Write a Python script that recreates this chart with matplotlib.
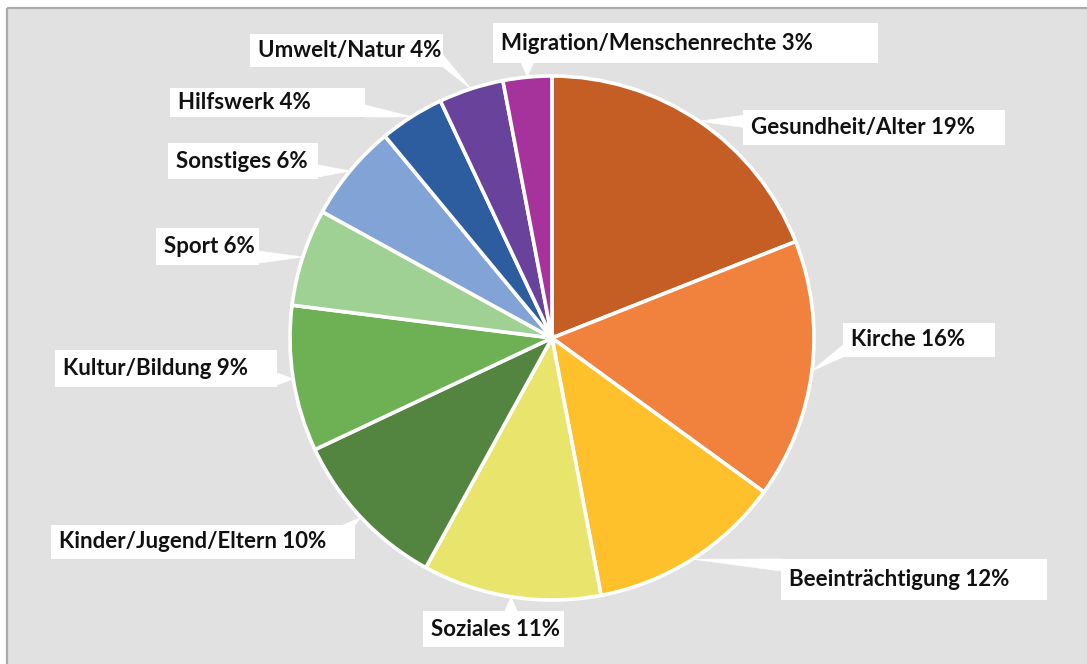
import numpy as np
import matplotlib
matplotlib.use('Agg')
import matplotlib.pyplot as plt
from matplotlib.patches import Rectangle, Polygon

## ------------------------------------------------------------
## 데이터
## ------------------------------------------------------------
categories = ['Gesundheit/Alter', 'Kirche', 'Beeinträchtigung', 'Soziales',
              'Kinder/Jugend/Eltern', 'Kultur/Bildung', 'Sport', 'Sonstiges',
              'Hilfswerk', 'Umwelt/Natur', 'Migration/Menschenrechte']
values = [19, 16, 12, 11, 10, 9, 6, 6, 4, 4, 3]
colors = ['#C55E24', '#F1823D', '#FFC12B', '#E8E46C', '#538540', '#6DB154',
          '#9ED193', '#82A3D5', '#2D5D9E', '#69439B', '#A6329B']

## ------------------------------------------------------------
## 레이아웃 (픽셀, 위쪽 기준)
## ------------------------------------------------------------
W, H = 1087, 664
CX, CY, R = 552, 338, 262
label_boxes = [(743, 110, 1005, 145), (843, 323, 995, 357), (781, 559, 1047, 600),
               (423, 611, 564, 647), (51, 525, 355, 559), (55, 350, 277, 387),
               (156, 228, 259, 265), (168, 143, 318, 179), (170, 88, 365, 117),
               (250, 34, 443, 67), (493, 23, 878, 63)]

plt.rcParams['font.family'] = ['Lato', 'DejaVu Sans']

fig = plt.figure(figsize=(W / 100, H / 100), dpi=100, facecolor='white')
ax = fig.add_axes([0, 0, 1, 1])

def fy(y):
    return H - y

# 회색 배경 + 테두리
ax.add_patch(Rectangle((7, 0), W - 7, fy(8), facecolor='#E1E1E1', edgecolor='none', zorder=0))
ax.plot([7, 7], [0, fy(8)], color='#ABABAB', lw=1.6, zorder=0.5, solid_capstyle='butt')
ax.plot([7, W], [fy(8), fy(8)], color='#ABABAB', lw=1.6, zorder=0.5, solid_capstyle='butt')

# 파이
wedges, _ = ax.pie(values, colors=colors, startangle=90, counterclock=False,
                   center=(CX, fy(CY)), radius=R, frame=True,
                   wedgeprops=dict(edgecolor='white', linewidth=2.6))
for w in wedges:
    w.set_zorder(2)

# 라벨 + 지시선
hw = 6
for w, cat, val, box in zip(wedges, categories, values, label_boxes):
    ang = np.deg2rad((w.theta1 + w.theta2) / 2)
    tx = CX + R * np.cos(ang)
    ty = CY - R * np.sin(ang)
    x0, y0, x1, y1 = box
    nx = min(max(tx, x0), x1)
    ny = min(max(ty, y0), y1)
    dx, dy = abs(tx - nx), abs(ty - ny)
    if dx >= dy:
        ya = min(max(ny - hw, y0), y1 - 2 * hw)
        base = [(nx, ya), (nx, ya + 2 * hw)]
    else:
        xa = min(max(nx - hw, x0), x1 - 2 * hw)
        base = [(xa, ny), (xa + 2 * hw, ny)]
    pts = [(tx, fy(ty))] + [(bx, fy(by)) for bx, by in base]
    ax.add_patch(Polygon(pts, closed=True, facecolor='white', edgecolor='white',
                         lw=0.5, zorder=1))
    ax.add_patch(Rectangle((x0, fy(y1)), x1 - x0, y1 - y0, facecolor='white',
                           edgecolor='none', zorder=3))
    ax.text(x0 + 8, fy((y0 + y1) / 2), f'{cat} {val}%', ha='left', va='center',
            fontsize=16, fontweight='bold', color='#111111', zorder=4)

ax.set_xlim(0, W)
ax.set_ylim(0, H)
ax.set_aspect('equal')
ax.axis('off')

fig.savefig('out.png', dpi=100, facecolor='white')
